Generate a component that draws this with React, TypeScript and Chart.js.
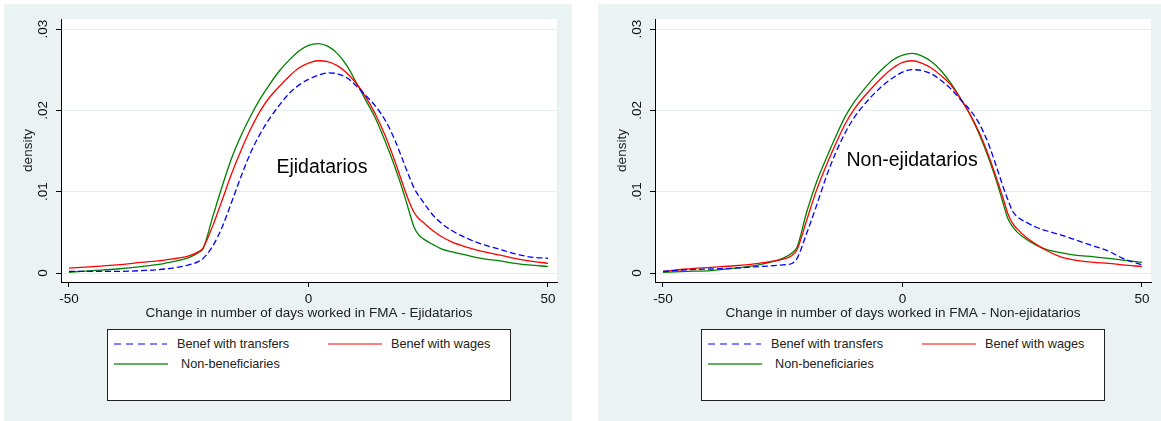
import React, { useEffect, useRef } from "react";
import { Chart, registerables } from "chart.js";

Chart.register(...registerables);

const FONT = '"Liberation Sans", Arial, Helvetica, sans-serif';
const BG = "#EAF2F3";
const GRID = "#E4ECEE";

// Common x grid (change in number of days)
const xGrid = [-50, -45, -40, -35, -30, -25, -23, -22, -20, -18, -16, -14, -12, -10, -8, -6, -4, -2, 0, 2, 4, 6, 8, 10, 12, 14, 16, 18, 20, 21, 22, 23, 24, 26, 28, 30, 33, 36, 40, 43, 46, 50];

// Ejidatarios
const ejiTransfers = [0.0002, 0.0002, 0.0002, 0.0003, 0.0005, 0.001, 0.0014, 0.0018, 0.0033, 0.0057, 0.0088, 0.012, 0.0149, 0.0172, 0.0191, 0.0207, 0.0221, 0.0231, 0.0238, 0.0243, 0.0246, 0.0245, 0.024, 0.023, 0.0218, 0.0205, 0.0188, 0.0164, 0.0134, 0.0119, 0.0105, 0.0095, 0.0087, 0.0071, 0.006, 0.0052, 0.0043, 0.0036, 0.0029, 0.0024, 0.002, 0.0018];
const ejiWages = [0.0006, 0.0008, 0.001, 0.0013, 0.0016, 0.0021, 0.0026, 0.0031, 0.0058, 0.009, 0.0123, 0.0152, 0.0178, 0.02, 0.0217, 0.023, 0.0242, 0.0252, 0.0258, 0.0261, 0.026, 0.0255, 0.0246, 0.0233, 0.0216, 0.0195, 0.0169, 0.0138, 0.0104, 0.0088, 0.0075, 0.0067, 0.0062, 0.0052, 0.0044, 0.0038, 0.0032, 0.0027, 0.0022, 0.0018, 0.0015, 0.0012];
const ejiNonBenef = [0.0001, 0.0003, 0.0005, 0.0008, 0.0012, 0.0019, 0.0025, 0.003, 0.0069, 0.0107, 0.0142, 0.017, 0.0194, 0.0215, 0.0233, 0.0249, 0.0262, 0.0273, 0.028, 0.0282, 0.0279, 0.027, 0.0255, 0.0234, 0.0212, 0.019, 0.0162, 0.0131, 0.0096, 0.0076, 0.0057, 0.0047, 0.0042, 0.0035, 0.0029, 0.0026, 0.0022, 0.0018, 0.0015, 0.0012, 0.001, 0.0008];

// Non-ejidatarios
const nonTransfers = [0.0002, 0.0004, 0.0005, 0.0006, 0.0008, 0.001, 0.0012, 0.0018, 0.0049, 0.0082, 0.0117, 0.0147, 0.0172, 0.0192, 0.0207, 0.022, 0.0231, 0.024, 0.0247, 0.025, 0.0249, 0.0245, 0.0237, 0.0227, 0.0214, 0.0201, 0.0184, 0.0158, 0.0124, 0.0106, 0.009, 0.0076, 0.0069, 0.0062, 0.0056, 0.0052, 0.0047, 0.0041, 0.0033, 0.0027, 0.0018, 0.001];
const nonWages = [0.0002, 0.0005, 0.0007, 0.0009, 0.0012, 0.0017, 0.0022, 0.0029, 0.0065, 0.0101, 0.0131, 0.0158, 0.0183, 0.0202, 0.0217, 0.023, 0.0242, 0.0252, 0.0259, 0.0261, 0.0258, 0.0252, 0.0243, 0.0232, 0.0215, 0.0196, 0.0173, 0.0144, 0.011, 0.0092, 0.0073, 0.0061, 0.0054, 0.0043, 0.0035, 0.0028, 0.002, 0.0016, 0.0013, 0.0012, 0.001, 0.0008];
const nonNonBenef = [0.0001, 0.0002, 0.0003, 0.0006, 0.001, 0.0018, 0.0025, 0.0032, 0.0075, 0.0111, 0.014, 0.0167, 0.0192, 0.0211, 0.0226, 0.024, 0.0252, 0.0262, 0.0268, 0.027, 0.0267, 0.026, 0.0249, 0.0234, 0.0216, 0.0196, 0.0171, 0.0141, 0.0106, 0.0086, 0.0067, 0.0057, 0.005, 0.0041, 0.0034, 0.0029, 0.0025, 0.0022, 0.002, 0.0018, 0.0016, 0.0013];

const xTicks = [-50, 0, 50];
const yTicks = [0, 0.01, 0.02, 0.03];
const yTickLabels = ["0", ".01", ".02", ".03"];
const seriesNames = ["Benef with transfers", "Benef with wages", "Non-beneficiaries"];
const seriesColors = ["#0000FF", "#FF0000", "#008000"];
const legendColors = ["#7F7FFF", "#FF7F7F", "#5FAF5F"];
const panelTitles = ["Ejidatarios", "Non-ejidatarios"];
const xAxisTitles = [
  "Change in number of days worked in FMA - Ejidatarios",
  "Change in number of days worked in FMA - Non-ejidatarios",
];
const yAxisTitle = "density";

type PanelProps = {
  title: string;
  xTitle: string;
  series: number[][];
  width: number;
  rightPad: number;
  labelAt: [number, number];
};

function Panel({ title, xTitle, series, width, rightPad, labelAt }: PanelProps) {
  const ref = useRef<HTMLCanvasElement>(null);
  useEffect(() => {
    if (!ref.current) return;
    const tickFont = { family: FONT, size: 13.5 };
    const plugin = {
      id: "stataDecor",
      beforeDraw(chart: any) {
        const { ctx, chartArea } = chart;
        ctx.save();
        ctx.fillStyle = "#FFFFFF";
        ctx.fillRect(chartArea.left, chartArea.top, chartArea.right - chartArea.left, chartArea.bottom - chartArea.top);
        ctx.restore();
      },
      afterDatasetsDraw(chart: any) {
        const { ctx, scales } = chart;
        ctx.save();
        ctx.fillStyle = "#000";
        ctx.font = `19.5px ${FONT}`;
        ctx.textAlign = "center";
        ctx.textBaseline = "middle";
        ctx.fillText(title, scales.x.getPixelForValue(labelAt[0]), scales.y.getPixelForValue(labelAt[1]));
        ctx.restore();
      },
    };
    const chart = new Chart(ref.current, {
      type: "line",
      data: {
        datasets: series.map((vals, i) => ({
          label: seriesNames[i],
          data: xGrid.map((x, j) => ({ x, y: vals[j] })),
          borderColor: seriesColors[i],
          borderWidth: 1.3,
          borderDash: i === 0 ? [6, 3] : [],
          pointRadius: 0,
          fill: false,
          tension: 0.4,
          cubicInterpolationMode: "monotone",
        })),
      },
      options: {
        animation: false,
        responsive: false,
        maintainAspectRatio: false,
        layout: { padding: { left: 0, right: rightPad, top: 15, bottom: 99 } },
        plugins: { legend: { display: false }, tooltip: { enabled: false } },
        scales: {
          x: {
            type: "linear",
            min: -51.67,
            max: 51.88,
            afterBuildTicks: (s: any) => {
              s.ticks = xTicks.map((v) => ({ value: v }));
            },
            afterFit: (s: any) => {
              s.height = 40;
            },
            grid: { display: true, drawOnChartArea: false, tickLength: 5, tickColor: "#000" },
            border: { display: true, color: "#000", width: 1 },
            ticks: { color: "#111", font: tickFont, padding: 4, maxRotation: 0, autoSkip: false, callback: (v: any) => String(v) },
            title: { display: true, text: xTitle, color: "#222", font: tickFont, padding: { top: 0, bottom: 1 } },
          },
          y: {
            type: "linear",
            min: -0.0011,
            max: 0.03123,
            afterBuildTicks: (s: any) => {
              s.ticks = yTicks.map((v) => ({ value: v }));
            },
            afterFit: (s: any) => {
              s.width = 57;
            },
            grid: { display: true, color: GRID, lineWidth: 1, tickLength: 5, tickColor: "#000" },
            border: { display: true, color: "#000", width: 1 },
            ticks: {
              color: "#111",
              font: tickFont,
              padding: 3.6,
              minRotation: 90,
              maxRotation: 90,
              crossAlign: "center",
              autoSkip: false,
              callback: (v: any) => {
                const k = yTicks.indexOf(v);
                return k >= 0 ? yTickLabels[k] : "";
              },
            },
            title: { display: true, text: yAxisTitle, color: "#222", font: tickFont, padding: { top: 16, bottom: 0 } },
          },
        },
      } as any,
      plugins: [plugin],
    });
    return () => chart.destroy();
  }, []);

  const lineY1 = 14;
  const lineY2 = 34;
  const txt: React.CSSProperties = {
    position: "absolute",
    font: `12.7px ${FONT}`,
    color: "#222",
    lineHeight: "16px",
    whiteSpace: "nowrap",
  };
  return (
    <div style={{ position: "relative", width, height: 417, background: BG }}>
      <canvas ref={ref} width={width} height={417} style={{ position: "absolute", left: 0, top: 0, width, height: 417 }} />
      <div
        style={{
          position: "absolute",
          left: 103,
          top: 325,
          width: 402,
          height: 70,
          background: "#FFFFFF",
          border: "1px solid #222",
        }}
      >
        <svg width={402} height={70} style={{ position: "absolute", left: 0, top: 0 }}>
          <line x1={6} y1={lineY1} x2={59} y2={lineY1} stroke={legendColors[0]} strokeWidth={2} strokeDasharray="7 5" />
          <line x1={220} y1={lineY1} x2={274} y2={lineY1} stroke={legendColors[1]} strokeWidth={2} />
          <line x1={6} y1={lineY2} x2={60} y2={lineY2} stroke={legendColors[2]} strokeWidth={2} />
        </svg>
        <div style={{ ...txt, left: 69, top: lineY1 - 8 }}>{seriesNames[0]}</div>
        <div style={{ ...txt, left: 283, top: lineY1 - 8 }}>{seriesNames[1]}</div>
        <div style={{ ...txt, left: 73, top: lineY2 - 8 }}>{seriesNames[2]}</div>
      </div>
    </div>
  );
}

export default function App() {
  return (
    <div style={{ position: "fixed", left: 0, top: 0, width: 1161, height: 421, background: "#FFFFFF", overflow: "hidden" }}>
      <div style={{ position: "absolute", left: 4, top: 4 }}>
        <Panel
          title={panelTitles[0]}
          xTitle={xAxisTitles[0]}
          series={[ejiTransfers, ejiWages, ejiNonBenef]}
          width={568}
          rightPad={15}
          labelAt={[2.8, 0.013]}
        />
      </div>
      <div style={{ position: "absolute", left: 598, top: 4 }}>
        <Panel
          title={panelTitles[1]}
          xTitle={xAxisTitles[1]}
          series={[nonTransfers, nonWages, nonNonBenef]}
          width={563}
          rightPad={10}
          labelAt={[2.0, 0.0138]}
        />
      </div>
    </div>
  );
}
